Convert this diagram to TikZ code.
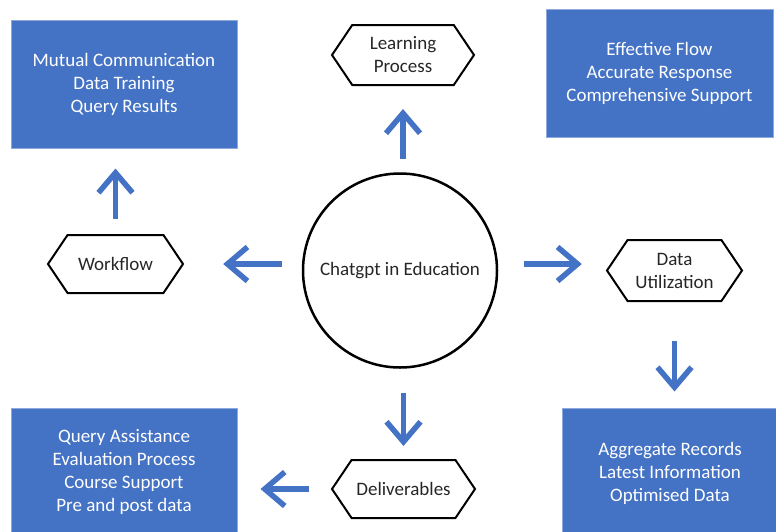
\documentclass[tikz,border=0pt]{standalone}
\usepackage{fontspec}
\setmainfont{Carlito}
\usetikzlibrary{arrows.meta,shapes.symbols}
\definecolor{boxblue}{HTML}{4472C4}
\definecolor{edgeblue}{HTML}{8EA9DB}
\definecolor{arrowblue}{HTML}{4472C4}
\definecolor{ink}{HTML}{262626}

\begin{document}
\begin{tikzpicture}[x=1pt,y=-1pt,
  font=\fontsize{19}{23}\selectfont,
  bluebox/.style={rectangle, fill=boxblue, draw=edgeblue, line width=1pt,
    text=white, align=center, inner sep=0pt},
  hexa/.style={signal, signal to=west and east, signal pointer angle=112,
    draw=black, line width=2pt, text=ink, align=center, inner sep=0pt},
  hub/.style={circle, draw=black, line width=2.5pt, minimum size=194pt,
    text=ink, inner sep=0pt},
  flow/.style={draw=arrowblue, line width=5.5pt,
    -{Straight Barb[length=20pt,width=34pt]}}]

\useasboundingbox (0,0) rectangle (776,531);
\clip (0,0) rectangle (776,531);

% outcome boxes
\node[bluebox, minimum width=226pt, minimum height=128pt] (tl) at (124,84)
  {Mutual Communication\\Data Training\\Query Results};
\node[bluebox, minimum width=227pt, minimum height=128pt] (tr) at (659.5,73)
  {Effective Flow\\Accurate Response\\Comprehensive Support};
\node[bluebox, minimum width=226pt, minimum height=128pt] (bl) at (124,472)
  {Query Assistance\\Evaluation Process\\Course Support\\Pre and post data};
\node[bluebox, minimum width=216pt, minimum height=130pt] (br) at (670,473)
  {Aggregate Records\\Latest Information\\Optimised Data};

% hub
\node[hub] (c) at (400,270.5) {Chatgpt in Education};

% stages
\node[hexa, minimum width=142pt, minimum height=60pt] (lp) at (403,55)
  {Learning\\Process};
\node[hexa, minimum width=135pt, minimum height=58pt] (wf) at (115.5,264)
  {Workflow};
\node[hexa, minimum width=135pt, minimum height=61pt] (du) at (674.5,270.5)
  {Data\\Utilization};
\node[hexa, minimum width=143pt, minimum height=58pt] (dl) at (403.5,489)
  {Deliverables};

% flow arrows
\draw[flow, shorten <=13pt, shorten >=23pt] (c.north -| lp.south) -- (lp.south);
\draw[flow, shorten <=15pt, shorten >=20pt] (wf.north) -- (wf.north |- tl.south);
\draw[flow, shorten <=20pt, shorten >=39pt] (c.west |- wf.east) -- (wf.east);
\draw[flow, shorten <=26pt, shorten >=24pt] (c.east |- wf.east) -- (du.west |- wf.east);
\draw[flow, shorten <=39pt, shorten >=16pt] (du.south) -- (du.south |- br.north);
\draw[flow, shorten <=24pt, shorten >=13pt] (c.south -| dl.north) -- (dl.north);
\draw[flow, shorten <=22pt, shorten >=23pt] (dl.west) -- (dl.west -| bl.east);
\end{tikzpicture}
\end{document}
